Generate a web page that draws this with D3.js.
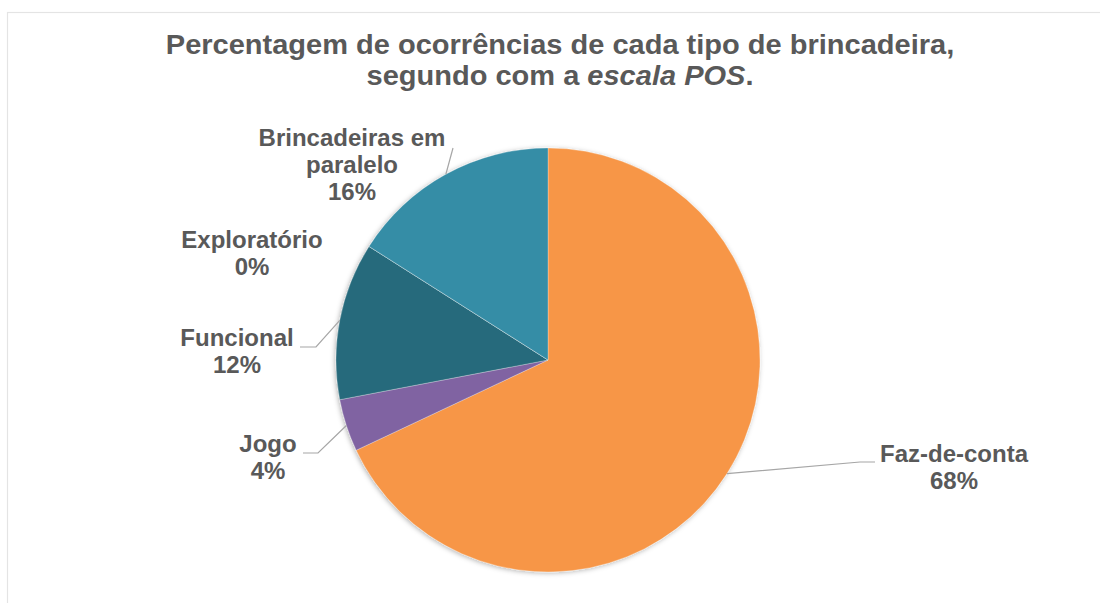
<!DOCTYPE html>
<html>
<head>
<meta charset="utf-8">
<script src="https://cdn.jsdelivr.net/npm/d3@7"></script>
<style>
  html, body { margin: 0; padding: 0; background: #fff; }
  svg { display: block; }
  text { font-family: "Liberation Sans", Arial, sans-serif; font-weight: bold; fill: #595959; }
</style>
</head>
<body>
<svg id="chart" width="1100" height="603"></svg>
<script>
// ---- data ----
const categories = ["Faz-de-conta", "Jogo", "Funcional", "Exploratório", "Brincadeiras em paralelo"];
const labelLines = [["Faz-de-conta"], ["Jogo"], ["Funcional"], ["Exploratório"], ["Brincadeiras em", "paralelo"]];
const values = [68, 4, 12, 0, 16];
const percentLabels = ["68%", "4%", "12%", "0%", "16%"];
const colors = ["#F79646", "#8064A2", "#276A7B", "#4BACC6", "#358DA6"];

// ---- layout ----
const W = 1100, H = 603;
const cx = 548, cy = 360, R = 212;
// label block: center x, first baseline
const labelPos = [[954, 462], [268, 452], [237, 346], [252, 248], [352, 146]];
// leader line: [elbow, end] (null = no leader)
const leaders = [
  [[860, 462], [875, 462]],
  [[318, 453], [303, 453]],
  [[316, 347], [300, 347]],
  null,
  [[453, 148], [453, 148]]
];

const svg = d3.select("#chart");
svg.append("rect").attr("width", W).attr("height", H).attr("fill", "#fff");
svg.append("rect").attr("x", 7.5).attr("y", 12.5).attr("width", W + 20).attr("height", H + 20)
  .attr("fill", "none").attr("stroke", "#e4e4e4").attr("stroke-width", 1.2);

const defs = svg.append("defs");
const f = defs.append("filter").attr("id", "shadow").attr("x", "-10%").attr("y", "-10%").attr("width", "120%").attr("height", "120%");
f.append("feDropShadow").attr("dx", -1).attr("dy", 1).attr("stdDeviation", 2.5)
  .attr("flood-color", "#000").attr("flood-opacity", 0.3);

// ---- title ----
const title = svg.append("g").attr("transform", `translate(560,0) scale(1.075,1)`);
title.append("text").attr("x", 0).attr("y", 54).attr("text-anchor", "middle")
  .attr("font-size", 27).text("Percentagem de ocorrências de cada tipo de brincadeira,");
const t2 = title.append("text").attr("x", 0).attr("y", 85).attr("text-anchor", "middle").attr("font-size", 27);
t2.append("tspan").text("segundo com a ");
t2.append("tspan").attr("font-style", "italic").text("escala POS");
t2.append("tspan").text(".");

// ---- pie ----
const pie = d3.pie().sort(null).value(d => d).startAngle(0).endAngle(2 * Math.PI);
const arcs = pie(values);
const arc = d3.arc().innerRadius(0).outerRadius(R);
const color = d3.scaleOrdinal().domain(categories).range(colors);

const g = svg.append("g").attr("transform", `translate(${cx},${cy})`);
const shadowG = g.append("g").attr("filter", "url(#shadow)");
shadowG.selectAll("path").data(arcs).join("path")
  .attr("d", arc)
  .attr("fill", (d, i) => color(categories[i]))
  .attr("stroke", "#ffffff").attr("stroke-opacity", 0.35).attr("stroke-width", 0.8);

// ---- leader lines ----
arcs.forEach((d, i) => {
  const L = leaders[i];
  if (!L || d.value === 0) return;
  const mid = (d.startAngle + d.endAngle) / 2;
  const sx = cx + R * Math.sin(mid), sy = cy - R * Math.cos(mid);
  const pts = [[sx, sy], L[0], L[1]];
  svg.append("path")
    .attr("d", d3.line()(pts))
    .attr("fill", "none").attr("stroke", "#a6a6a6").attr("stroke-width", 1.2);
});

// ---- labels ----
arcs.forEach((d, i) => {
  const [lx, ly] = labelPos[i];
  const lines = labelLines[i].concat([percentLabels[i]]);
  const t = svg.append("text").attr("text-anchor", "middle").attr("font-size", 24);
  lines.forEach((ln, k) => {
    t.append("tspan").attr("x", lx).attr("y", ly + k * 27).text(ln);
  });
});
</script>
</body>
</html>
